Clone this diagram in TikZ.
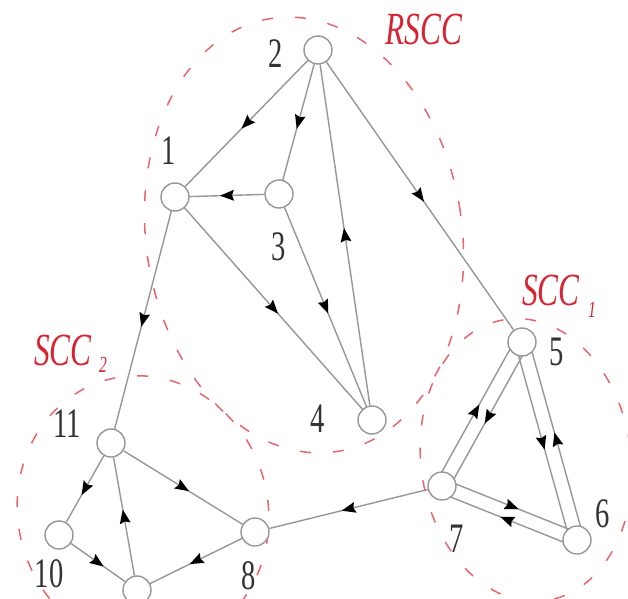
\documentclass[tikz,border=0pt]{standalone}
\usepackage{fontspec}
\setmainfont{Liberation Serif}
\newfontfamily\lblfont[FakeStretch=0.68]{Liberation Serif}
\usetikzlibrary{calc,backgrounds,decorations.markings,arrows.meta}
\definecolor{edgegray}{RGB}{150,150,150}
\definecolor{lblred}{RGB}{215,35,50}
\definecolor{ellred}{RGB}{232,100,110}
\tikzset{
  vert/.style={circle,draw=edgegray,line width=1.4pt,fill=white,minimum size=28pt,inner sep=0pt},
  edge/.style={draw=edgegray,line width=1.4pt},
  mid/.style={postaction={decorate,decoration={markings,mark=at position 0.5 with {\fill[black] (7pt,0pt) -- (-7pt,5.5pt) -- (-5pt,0pt) -- (-7pt,-5.5pt) -- cycle;}}}},
  num/.style={font=\lblfont\fontsize{42}{42}\selectfont,text=black!80,inner sep=0pt,anchor=base},
  grp/.style={font=\lblfont\itshape\fontsize{46}{46}\selectfont,text=lblred,inner sep=0pt,anchor=base},
  sub/.style={font=\lblfont\itshape\fontsize{23}{23}\selectfont,text=lblred,inner sep=0pt,anchor=base},
  region/.style={draw=ellred,line width=1.5pt,dash pattern=on 11pt off 22pt},
}
\begin{document}
\begin{tikzpicture}[x=1pt,y=1pt]
\useasboundingbox (0,0) rectangle (628,598);
\clip (0,0) rectangle (628,598);
% regions
\draw[region] (304,363) ellipse[x radius=158,y radius=219,rotate=8.4];
\draw[region] (143,86) ellipse[x radius=125,y radius=137,rotate=15];
\draw[region] (526,138) ellipse[x radius=105,y radius=142,rotate=8];
% vertices
\node[vert] (n1) at (175,401) {};
\node[vert] (n2) at (318,548) {};
\node[vert] (n3) at (279,404) {};
\node[vert] (n4) at (372,178) {};
\node[vert] (n5) at (522,256) {};
\node[vert] (n6) at (577,58) {};
\node[vert] (n7) at (442,112) {};
\node[vert] (n8) at (255,66) {};
\node[vert] (n9) at (137,8) {};
\node[vert] (n10) at (59,63) {};
\node[vert] (n11) at (111,155) {};
% edges
\begin{pgfonlayer}{background}
\draw[edge,mid] (n2) -- (n1);
\draw[edge,mid] (n2) -- (n3);
\draw[edge,mid] (n4) -- (n2);
\draw[edge,mid] (n2) -- (n5);
\draw[edge,mid] (n3) -- (n1);
\draw[edge,mid] (n3) -- (n4);
\draw[edge,mid] (n1) -- (n4);
\draw[edge,mid] (n1) -- (n11);
\draw[edge,mid] (n11) -- (n10);
\draw[edge,mid] (n11) -- (n8);
\draw[edge,mid] (n10) -- (n9);
\draw[edge,mid] (n9) -- (n11);
\draw[edge,mid] (n8) -- (n9);
\draw[edge,mid] (n7) -- (n8);
\draw[edge,mid] ($(n5.center)!7pt!90:(n7.center)$) -- ($(n7.center)!7pt!-90:(n5.center)$);
\draw[edge,mid] ($(n7.center)!7pt!90:(n5.center)$) -- ($(n5.center)!7pt!-90:(n7.center)$);
\draw[edge,mid] ($(n5.center)!7pt!-90:(n6.center)$) -- ($(n6.center)!7pt!90:(n5.center)$);
\draw[edge,mid] ($(n6.center)!7pt!-90:(n5.center)$) -- ($(n5.center)!7pt!90:(n6.center)$);
\draw[edge,mid] ($(n7.center)!7pt!90:(n6.center)$) -- ($(n6.center)!7pt!-90:(n7.center)$);
\draw[edge,mid] ($(n6.center)!7pt!90:(n7.center)$) -- ($(n7.center)!7pt!-90:(n6.center)$);
\end{pgfonlayer}
% vertex labels
\node[num] (l1) at (169,433) {1};
\node[num] (l2) at (276,530) {2};
\node[num] (l3) at (279,338) {3};
\node[num] (l4) at (318,166) {4};
\node[num] (l5) at (557,233) {5};
\node[num] (l6) at (603,71) {6};
\node[num] (l7) at (457,46) {7};
\node[num] (l8) at (249,9) {8};
\node[num] (l10) at (49,11) {10};
\node[num] (l11) at (67,161) {11};
% region labels
\node[grp] (rscc) at (424,553) {RSCC};
\node[grp] (scc1) at (551,293) {SCC};
\node[sub] (scc1s) at (592,281) {1};
\node[grp] (scc2) at (63,233) {SCC};
\node[sub] (scc2s) at (103,226) {2};
\end{tikzpicture}
\end{document}
